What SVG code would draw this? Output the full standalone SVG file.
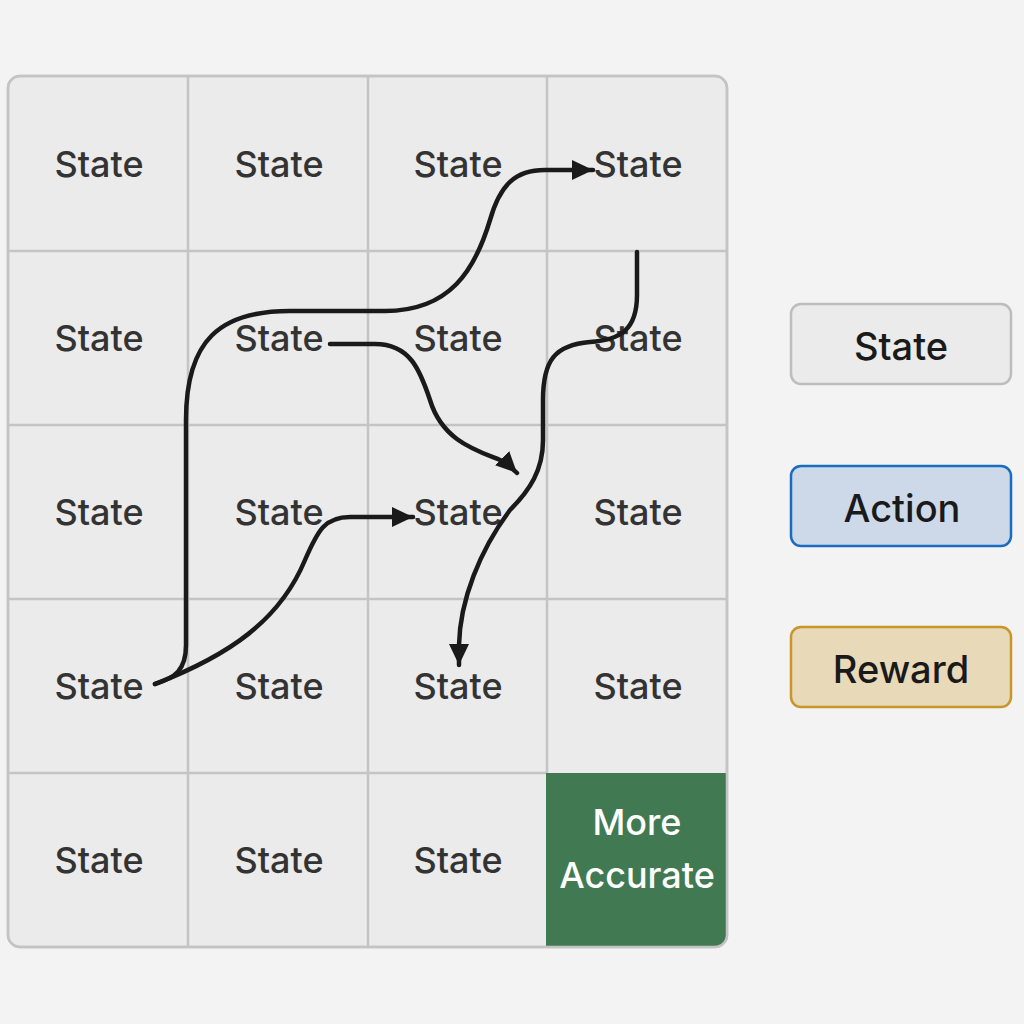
<svg xmlns="http://www.w3.org/2000/svg" width="1024" height="1024" viewBox="0 0 1024 1024">
<defs>
<style>
.cell{fill:#ebebeb;stroke:#c4c4c4;stroke-width:2.5}
.lbl{font-family:Inter,"Noto Sans",sans-serif;font-size:36px;font-weight:500;fill:#333;text-anchor:middle}
.wl{font-family:Inter,"Noto Sans",sans-serif;font-size:36px;font-weight:500;fill:#fff;text-anchor:middle}
.leg{font-family:Inter,"Noto Sans",sans-serif;font-size:38px;font-weight:500;fill:#1a1a1a;text-anchor:middle}
.conn{fill:none;stroke:#1a1a1a;stroke-width:4.5;stroke-linecap:round;stroke-linejoin:round}
</style>
<marker id="ah" markerUnits="userSpaceOnUse" markerWidth="24" markerHeight="22" refX="21" refY="11" orient="auto">
<path d="M0,1 L21,11 L0,21 Z" fill="#1a1a1a"/>
</marker>
<clipPath id="gc"><rect x="8" y="76" width="719" height="871" rx="12"/></clipPath>
</defs>
<rect width="1024" height="1024" fill="#f3f3f3"/>
<g id="grid">
<rect x="8" y="76" width="719" height="871" rx="12" class="cell"/>
<rect id="goal" x="546" y="773" width="181" height="174" fill="#417a52" clip-path="url(#gc)"/>
<g stroke="#c4c4c4" stroke-width="2.5">
<line x1="188" y1="76" x2="188" y2="947"/>
<line x1="368" y1="76" x2="368" y2="947"/>
<line x1="547" y1="76" x2="547" y2="773"/>
<line x1="8" y1="251" x2="727" y2="251"/>
<line x1="8" y1="425" x2="727" y2="425"/>
<line x1="8" y1="599" x2="727" y2="599"/>
<line x1="8" y1="773" x2="546" y2="773"/>
</g>
<rect x="8" y="76" width="719" height="871" rx="12" fill="none" stroke="#c4c4c4" stroke-width="2.5"/>
</g>
<g id="states">
<g id="s00"><text class="lbl" x="99" y="177">State</text></g>
<g id="s01"><text class="lbl" x="279" y="177">State</text></g>
<g id="s02"><text class="lbl" x="458" y="177">State</text></g>
<g id="s03"><text class="lbl" x="638" y="177">State</text></g>
<g id="s10"><text class="lbl" x="99" y="351">State</text></g>
<g id="s11"><text class="lbl" x="279" y="351">State</text></g>
<g id="s12"><text class="lbl" x="458" y="351">State</text></g>
<g id="s13"><text class="lbl" x="638" y="351">State</text></g>
<g id="s20"><text class="lbl" x="99" y="525">State</text></g>
<g id="s21"><text class="lbl" x="279" y="525">State</text></g>
<g id="s22"><text class="lbl" x="458" y="525">State</text></g>
<g id="s23"><text class="lbl" x="638" y="525">State</text></g>
<g id="s30"><text class="lbl" x="99" y="699">State</text></g>
<g id="s31"><text class="lbl" x="279" y="699">State</text></g>
<g id="s32"><text class="lbl" x="458" y="699">State</text></g>
<g id="s33"><text class="lbl" x="638" y="699">State</text></g>
<g id="s40"><text class="lbl" x="99" y="873">State</text></g>
<g id="s41"><text class="lbl" x="279" y="873">State</text></g>
<g id="s42"><text class="lbl" x="458" y="873">State</text></g>
<g id="s43"><text class="wl" x="637" y="835">More</text><text class="wl" x="637" y="888">Accurate</text></g>
</g>
<g id="connectors">
<path class="conn" marker-end="url(#ah)" d="M155,684 C175,678 186,670 186,645 L186,420 C186,340 220,311 290,311 L385,311 C450,311 475,270 490,220 C500,185 515,170 545,170 L593,170"/>
<path class="conn" marker-end="url(#ah)" d="M155,684 C230,655 280,620 305,560 C318,530 325,517 350,517 L413,517"/>
<path class="conn" marker-end="url(#ah)" d="M330,344 L375,344 C410,344 420,370 430,400 C442,440 475,450 500,460 C508,464 512,468 517,473"/>
<path class="conn" marker-end="url(#ah)" d="M637,252 L637,295 C637,330 620,340 590,342 C555,345 543,360 543,400 L543,440 C543,470 530,490 510,510 C480,550 460,600 459,645 L459,665"/>
</g>
<g id="legend">
<g id="leg-state"><rect x="791" y="304" width="220" height="80" rx="10" fill="#ebebeb" stroke="#bdbdbd" stroke-width="2.5"/><text class="leg" x="901" y="360">State</text></g>
<g id="leg-action"><rect x="791" y="466" width="220" height="80" rx="10" fill="#cdd9e8" stroke="#1a6cc0" stroke-width="2.5"/><text class="leg" x="902" y="522">Action</text></g>
<g id="leg-reward"><rect x="791" y="627" width="220" height="80" rx="10" fill="#e8d9b8" stroke="#c8962a" stroke-width="2.5"/><text class="leg" x="901" y="683">Reward</text></g>
</g>
</svg>
